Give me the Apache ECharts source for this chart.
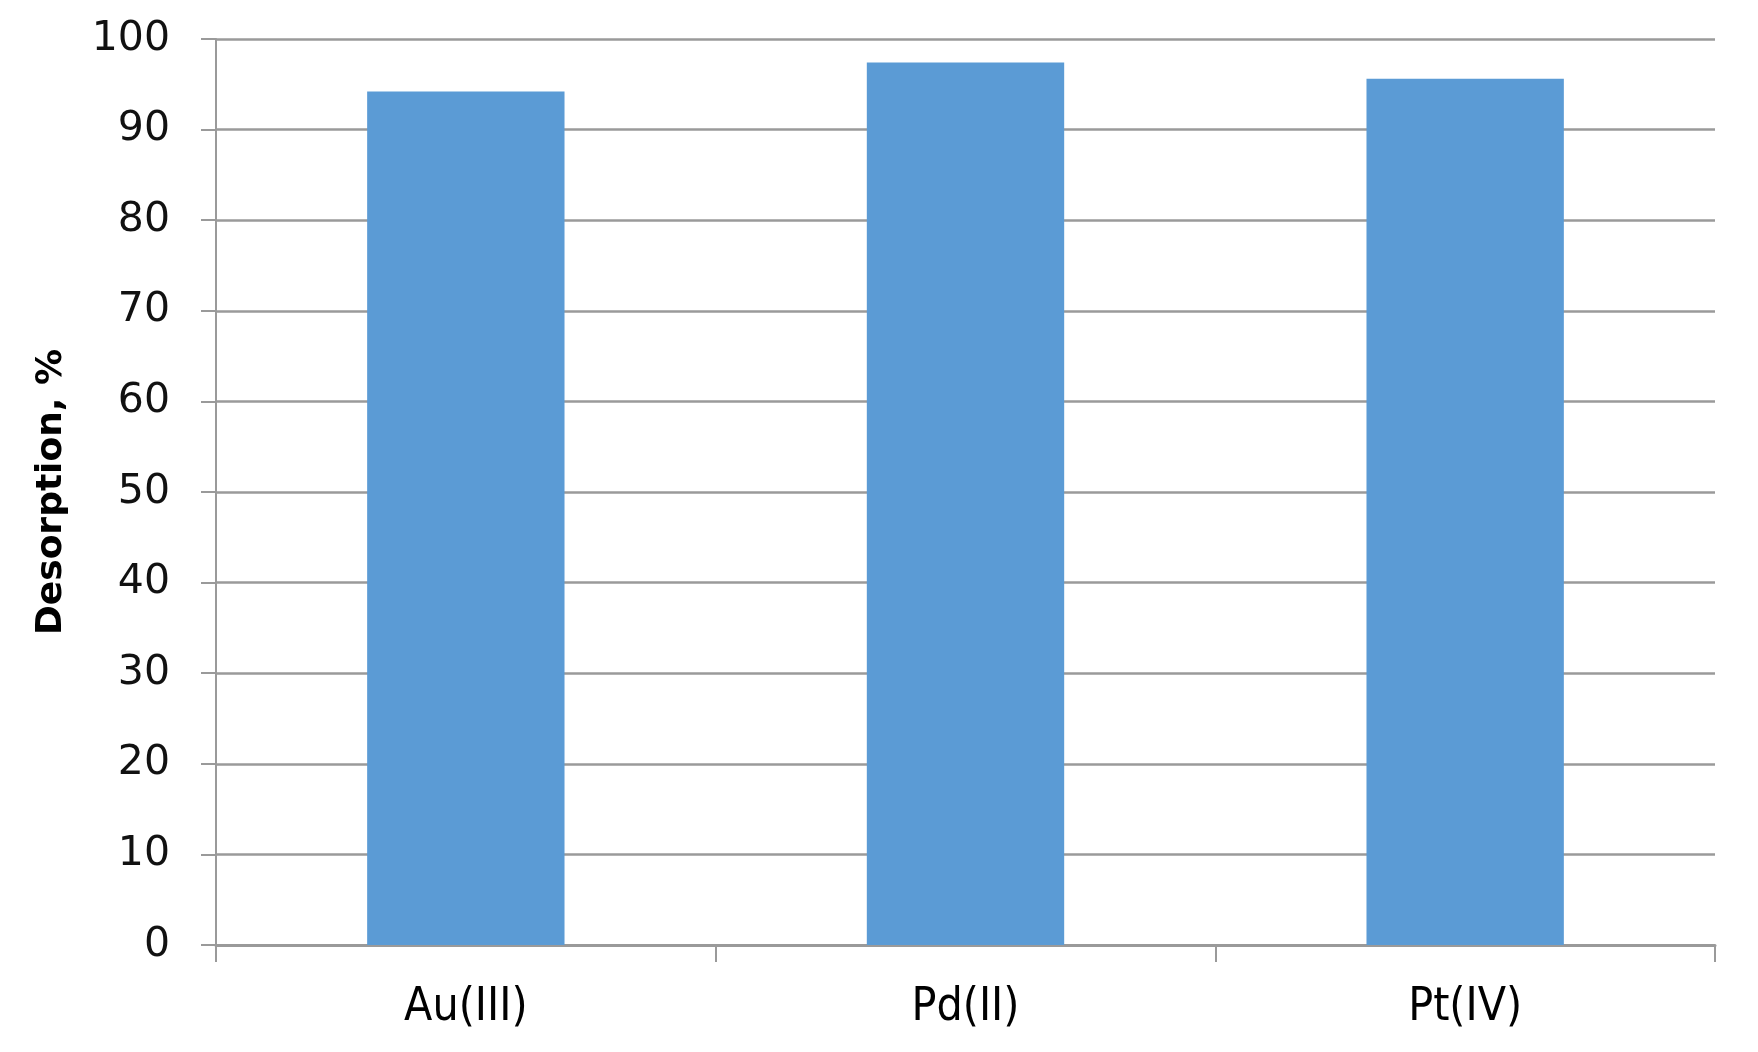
<!DOCTYPE html>
<html>
<head>
<meta charset="utf-8">
<script src="https://cdn.jsdelivr.net/npm/echarts@6/dist/echarts.min.js"></script>
<style>
  html, body { margin: 0; padding: 0; background: #fff; }
  #chart { width: 1758px; height: 1052px; }
</style>
</head>
<body>
<div id="chart"></div>
<script>
// data
const metals = ['Au(III)', 'Pd(II)', 'Pt(IV)']
const desorption = [94.2, 97.4, 95.6]
const yTicks = [0, 100, 10] // min, max, step

const chart = echarts.init(document.getElementById('chart'))
const gridGray = '#9a9a9a'

chart.setOption({
  animation: false,
  grid: { left: 216, right: 43, top: 39, bottom: 107, containLabel: false },
  xAxis: {
    type: 'category',
    data: metals,
    axisLine: { lineStyle: { color: gridGray, width: 3 } },
    axisTick: { show: true, length: 17, lineStyle: { color: gridGray, width: 2 } },
    axisLabel: {
      margin: 40,
      color: '#000',
      fontFamily: 'DejaVu Sans Condensed',
      fontSize: 46
    }
  },
  yAxis: {
    type: 'value',
    min: yTicks[0],
    max: yTicks[1],
    interval: yTicks[2],
    name: 'Desorption, %',
    nameLocation: 'middle',
    nameGap: 146,
    nameTextStyle: {
      color: '#000',
      fontFamily: 'DejaVu Sans',
      fontWeight: 'bold',
      fontSize: 36
    },
    axisLine: { show: true, lineStyle: { color: gridGray, width: 2 } },
    axisTick: { show: true, length: 15, lineStyle: { color: gridGray, width: 2 } },
    splitLine: { lineStyle: { color: gridGray, width: 2.5 } },
    axisLabel: {
      margin: 46,
      color: '#111',
      fontFamily: 'DejaVu Sans',
      fontSize: 41
    }
  },
  series: [{
    type: 'bar',
    data: desorption,
    barWidth: '39.5%',
    itemStyle: { color: '#5b9bd5' }
  }]
})
</script>
</body>
</html>
